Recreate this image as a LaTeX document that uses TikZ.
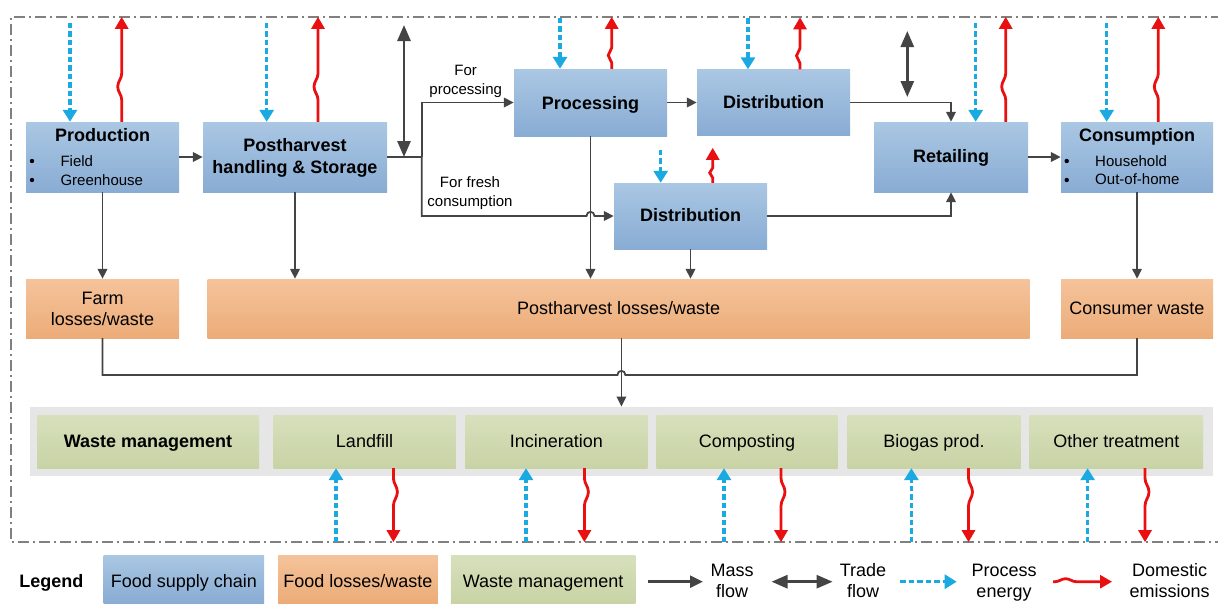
\documentclass[tikz,border=0pt]{standalone}
\usepackage{fontspec}
\setmainfont{Liberation Sans}
\usetikzlibrary{arrows.meta,decorations.pathmorphing,calc}

\definecolor{fscTop}{RGB}{170,199,227}
\definecolor{fscBot}{RGB}{137,172,212}
\definecolor{flwTop}{RGB}{245,195,155}
\definecolor{flwBot}{RGB}{236,172,120}
\definecolor{wmTop}{RGB}{215,224,188}
\definecolor{wmBot}{RGB}{200,211,165}
\definecolor{grpGray}{RGB}{230,230,230}
\definecolor{flowDark}{RGB}{68,68,68}
\definecolor{energyBlue}{RGB}{26,170,225}
\definecolor{emisRed}{RGB}{232,16,16}
\definecolor{frameGray}{RGB}{128,128,128}

\tikzset{
  big/.style={font=\fontsize{18}{21.5}\selectfont},
  bigbf/.style={font=\fontsize{18}{22}\selectfont\bfseries},
  small/.style={font=\fontsize{15}{18.5}\selectfont},
  box/.style={rectangle, inner sep=0pt},
  fsc/.style={box, top color=fscTop, bottom color=fscBot},
  flw/.style={box, top color=flwTop, bottom color=flwBot},
  wm/.style={box, top color=wmTop, bottom color=wmBot},
  dot/.style={circle, fill=black, inner sep=0pt, minimum size=4.4pt},
  conn/.style={draw=flowDark, line width=1.8pt},
  flow/.style={conn, -{Triangle[length=10pt,width=9.5pt]}},
  trade/.style={draw=flowDark, line width=2.8pt,
    {Triangle[length=16pt,width=13pt]}-{Triangle[length=16pt,width=13pt]}},
  energy/.style={draw=energyBlue, line width=3.2pt, dash pattern=on 5.5pt off 3pt,
    -{Triangle[length=12pt,width=14pt]}},
  emis/.style={draw=emisRed, line width=2.8pt, -{Triangle[length=12pt,width=13pt]},
    decorate, decoration={snake, amplitude=4pt, #1}},
  emisTop/.style={emis={segment length=42pt, pre length=22pt, post length=41pt}},
  emisMid/.style={emis={segment length=24pt, pre length=6pt, post length=22pt, amplitude=3.5pt}},
  emisLow/.style={emis={segment length=16pt, pre length=5pt, post length=14pt, amplitude=3pt}},
  emisBot/.style={emis={segment length=44pt, pre length=10pt, post length=20pt}},
  frame/.style={draw=frameGray, line width=1.6pt,
    dash pattern=on 11pt off 4pt on 2pt off 4pt}
}

\begin{document}
\begin{tikzpicture}[x=1pt,y=-1pt]
\useasboundingbox (0,0) rectangle (1218,603);

% system boundary
\draw[frame] (1222,17) -- (11,17) -- (11,542) -- (1222,542);

% ---------- food supply chain ----------
\node[fsc, minimum width=153pt, minimum height=70pt] (prod) at (102.5,157) {};
\node[fsc, minimum width=184pt, minimum height=70pt] (post) at (295,157) {};
\node[fsc, minimum width=153pt, minimum height=67pt] (proc) at (590.5,102.5) {};
\node[fsc, minimum width=153pt, minimum height=66pt] (distT) at (773.5,102.5) {};
\node[fsc, minimum width=153pt, minimum height=66pt] (distB) at (690.5,216) {};
\node[fsc, minimum width=154pt, minimum height=70pt] (retl) at (951,157) {};
\node[fsc, minimum width=152pt, minimum height=70pt] (cons) at (1137,157) {};

\node[bigbf, anchor=base] (prodT) at (102.5,141.7) {Production};
\node[dot] (prodB1) at (32,161) {};
\node[dot] (prodB2) at (32,180) {};
\node[small, anchor=base west] (prodL1) at (57,166) {Field};
\node[small, anchor=base west] (prodL2) at (57,185) {Greenhouse};

\node[bigbf, align=center, anchor=base] (postT) at (295,173.7) {Postharvest\\handling \& Storage};
\node[bigbf, anchor=base] (procT) at (590.5,109.3) {Processing};
\node[bigbf, anchor=base] (distTT) at (773.5,108.3) {Distribution};
\node[bigbf, anchor=base] (distBT) at (690.5,221.7) {Distribution};
\node[bigbf, anchor=base] (retlT) at (951,162.7) {Retailing};
\node[bigbf, anchor=base] (consT) at (1137,141.7) {Consumption};
\node[dot] (consB1) at (1066.7,161) {};
\node[dot] (consB2) at (1066.7,180) {};
\node[small, anchor=base west] (consL1) at (1091.7,166) {Household};
\node[small, anchor=base west] (consL2) at (1091.7,184.5) {Out-of-home};

\node[small, align=center, anchor=base] (forProc) at (465.7,94.3) {For\\processing};
\node[small, align=center, anchor=base] (forFresh) at (470,206) {For fresh\\consumption};

% ---------- losses and waste ----------
\node[flw, minimum width=153pt, minimum height=59pt] (farm) at (102.5,308.5) {};
\node[flw, minimum width=822pt, minimum height=59pt] (pl) at (618.6,308.5) {};
\node[flw, minimum width=152pt, minimum height=59pt] (cw) at (1137,308.5) {};
\node[big, align=center, anchor=base] (farmT) at (102.5,325.8) {Farm\\losses/waste};
\node[big, anchor=base] (plT) at (618.6,314.3) {Postharvest losses/waste};
\node[big, anchor=base] (cwT) at (1137,314.3) {Consumer waste};

% ---------- waste management ----------
\node[box, fill=grpGray, minimum width=1183.3pt, minimum height=69.3pt] (grp) at (621.4,441.4) {};
\node[wm, minimum width=222pt, minimum height=53pt] (wmHead) at (148,441.5) {};
\node[wm, minimum width=182pt, minimum height=53pt] (lf) at (364.5,441.5) {};
\node[wm, minimum width=182pt, minimum height=53pt] (inc) at (556.3,441.5) {};
\node[wm, minimum width=181pt, minimum height=53pt] (comp) at (747,441.5) {};
\node[wm, minimum width=173pt, minimum height=53pt] (bio) at (934,441.5) {};
\node[wm, minimum width=173.4pt, minimum height=53pt] (oth) at (1116.3,441.5) {};
\node[bigbf, anchor=base] (wmHeadT) at (148,447.7) {Waste management};
\node[big, anchor=base] (lfT) at (364.5,447.7) {Landfill};
\node[big, anchor=base] (incT) at (556.3,447.7) {Incineration};
\node[big, anchor=base] (compT) at (747,447.7) {Composting};
\node[big, anchor=base] (bioT) at (934,447.7) {Biogas prod.};
\node[big, anchor=base] (othT) at (1116.3,447.7) {Other treatment};

% ---------- mass flows ----------
\coordinate (split) at (421.7,157);
\draw[flow] (prod.east) -- (post.west);
\draw[conn] (post.east) -- (split);
\draw[flow] (split) |- (proc.west);
\draw[flow] (split) |- (586.5,216) .. controls (586.5,210.5) and (594.5,210.5) .. (594.5,216) -- (distB.west);
\draw[flow] (proc.east) -- (proc.east -| distT.west);
\draw[flow] (distT.east) -| (retl.north);
\draw[flow] (distB.east) -| (retl.south);
\draw[flow] (retl.east) -- (cons.west);

\draw[flow] (prod.south) -- (farm.north);
\draw[flow] (post.south) -- (post.south |- pl.north);
\draw[flow] (proc.south) -- (proc.south |- pl.north);
\draw[flow] (distB.south) -- (distB.south |- pl.north);
\draw[flow] (cons.south) -- (cw.north);

\draw[conn] (farm.south) -- (102.5,375) -- (617.4,375)
  .. controls (617.4,369.5) and (625.4,369.5) .. (625.4,375) -| (cw.south);
\draw[flow] (grp.north |- pl.south) -- (grp.north);

% ---------- trade flows ----------
\coordinate (tr1a) at (404,25);
\coordinate (tr1b) at (404,157);
\coordinate (tr2a) at (907.3,31);
\coordinate (tr2b) at (907.3,97);
\draw[trade] (tr1a) -- (tr1b);
\draw[trade] (tr2a) -- (tr2b);

% ---------- process energy (in) and emissions (out) ----------
\draw[energy] ($(prod.north)+(-32.5,-99)$) -- ([xshift=-32.5pt]prod.north);
\draw[emisTop] ([xshift=19.2pt]prod.north) -- ++(0,-105);
\draw[energy] ($(post.north)+(-28.3,-99)$) -- ([xshift=-28.3pt]post.north);
\draw[emisTop] ([xshift=23pt]post.north) -- ++(0,-105);
\draw[energy] ($(proc.north)+(-30.5,-51)$) -- ([xshift=-30.5pt]proc.north);
\draw[emisMid] ([xshift=21.2pt]proc.north) -- ++(0,-52);
\draw[energy] ($(distT.north)+(-25.5,-51)$) -- ([xshift=-25.5pt]distT.north);
\draw[emisMid] ([xshift=26.5pt]distT.north) -- ++(0,-52);
\draw[energy] ($(distB.north)+(-29.8,-33)$) -- ([xshift=-29.8pt]distB.north);
\draw[emisLow] ([xshift=22.2pt]distB.north) -- ++(0,-35);
\draw[energy] ($(retl.north)+(24.7,-99)$) -- ([xshift=24.7pt]retl.north);
\draw[emisTop] ([xshift=54.7pt]retl.north) -- ++(0,-105);
\draw[energy] ($(cons.north)+(-30.3,-99)$) -- ([xshift=-30.3pt]cons.north);
\draw[emisTop] ([xshift=21.3pt]cons.north) -- ++(0,-105);

\draw[energy] ($(lf.south)+(-28.5,74)$) -- ([xshift=-28.5pt]lf.south);
\draw[emisBot] ([xshift=28.9pt]lf.south) -- ++(0,74);
\draw[energy] ($(inc.south)+(-30.3,74)$) -- ([xshift=-30.3pt]inc.south);
\draw[emisBot] ([xshift=28.1pt]inc.south) -- ++(0,74);
\draw[energy] ($(comp.south)+(-23,74)$) -- ([xshift=-23pt]comp.south);
\draw[emisBot] ([xshift=34pt]comp.south) -- ++(0,74);
\draw[energy] ($(bio.south)+(-22.6,74)$) -- ([xshift=-22.6pt]bio.south);
\draw[emisBot] ([xshift=34.5pt]bio.south) -- ++(0,74);
\draw[energy] ($(oth.south)+(-28.7,74)$) -- ([xshift=-28.7pt]oth.south);
\draw[emisBot] ([xshift=28.7pt]oth.south) -- ++(0,74);

% ---------- legend ----------
\node[bigbf, anchor=base] (legT) at (51.4,587) {Legend};
\node[fsc, minimum width=160.4pt, minimum height=48pt] (legFsc) at (183.8,579) {};
\node[flw, minimum width=159.7pt, minimum height=48pt] (legFlw) at (357.9,579) {};
\node[wm, minimum width=184.7pt, minimum height=48pt] (legWm) at (543.1,579) {};
\node[big, anchor=base] (legFscT) at (183.8,587.3) {Food supply chain};
\node[big, anchor=base] (legFlwT) at (357.9,587.3) {Food losses/waste};
\node[big, anchor=base] (legWmT) at (543.1,587.3) {Waste management};

\coordinate (lmA) at (648,581.7);  \coordinate (lmB) at (703,581.7);
\coordinate (ltA) at (771.5,581.7); \coordinate (ltB) at (832.6,581.7);
\coordinate (leA) at (900,581.7);  \coordinate (leB) at (956.7,581.7);
\coordinate (lxA) at (1053,581.7); \coordinate (lxB) at (1112,581.7);
\draw[flow, line width=2.6pt, -{Triangle[length=13pt,width=12pt]}] (lmA) -- (lmB);
\draw[trade] (ltA) -- (ltB);
\draw[energy] (leA) -- (leB);
\draw[emis={segment length=34pt, pre length=2pt, post length=23pt, amplitude=3pt}] (lxA) -- (lxB);
\node[big, align=center, anchor=base] (legMass) at (732,597.5) {Mass\\flow};
\node[big, align=center, anchor=base] (legTrade) at (863,597.5) {Trade\\flow};
\node[big, align=center, anchor=base] (legEnergy) at (1004,597.5) {Process\\energy};
\node[big, align=center, anchor=base] (legEmis) at (1169.6,597.5) {Domestic\\emissions};
\end{tikzpicture}
\end{document}
